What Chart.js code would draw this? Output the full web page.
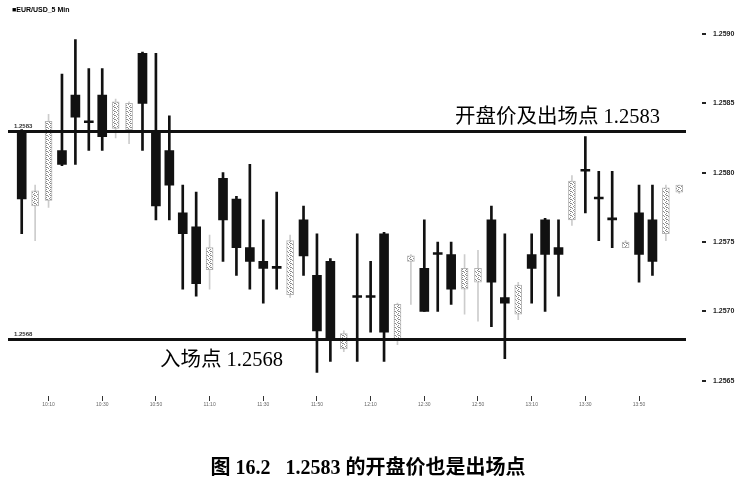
<!DOCTYPE html>
<html>
<head>
<meta charset="utf-8">
<script src="https://cdn.jsdelivr.net/npm/chart.js@4.4.1/dist/chart.umd.min.js"></script>
<style>
  html, body { margin: 0; padding: 0; background: #fff; }
  canvas { display: block; }
</style>
</head>
<body>
<canvas id="chart" width="747" height="482"></canvas>
<script>
// 5 minute bars
const times = [
  '10:00', '10:05', '10:10', '10:15', '10:20', '10:25', '10:30', '10:35', '10:40', '10:45',
  '10:50', '10:55', '11:00', '11:05', '11:10', '11:15', '11:20', '11:25', '11:30', '11:35',
  '11:40', '11:45', '11:50', '11:55', '12:00', '12:05', '12:10', '12:15', '12:20', '12:25',
  '12:30', '12:35', '12:40', '12:45', '12:50', '12:55', '13:00', '13:05', '13:10', '13:15',
  '13:20', '13:25', '13:30', '13:35', '13:40', '13:45', '13:50', '13:55', '14:00', '14:05'
];
const opens = [
  1.25830, 1.25776, 1.25780, 1.25816, 1.25856, 1.25836, 1.25856, 1.25832, 1.25831, 1.25886,
  1.25830, 1.25816, 1.25771, 1.25761, 1.25730, 1.25796, 1.25781, 1.25746, 1.25736, 1.25731,
  1.25712, 1.25766, 1.25726, 1.25736, 1.25673, 1.25710, 1.25710, 1.25756, 1.25680, 1.25736,
  1.25731, 1.25741, 1.25741, 1.25716, 1.25721, 1.25766, 1.25710, 1.25698, 1.25741, 1.25766,
  1.25746, 1.25766, 1.25801, 1.25781, 1.25766, 1.25746, 1.25771, 1.25766, 1.25756, 1.25786
];
const highs = [
  1.25831, 1.25791, 1.25842, 1.25871, 1.25896, 1.25875, 1.25875, 1.25853, 1.25851, 1.25887,
  1.25886, 1.25841, 1.25791, 1.25786, 1.25755, 1.25800, 1.25783, 1.25806, 1.25766, 1.25786,
  1.25755, 1.25776, 1.25756, 1.25738, 1.25686, 1.25756, 1.25736, 1.25757, 1.25706, 1.25741,
  1.25766, 1.25750, 1.25750, 1.25741, 1.25744, 1.25776, 1.25756, 1.25721, 1.25756, 1.25767,
  1.25766, 1.25798, 1.25826, 1.25801, 1.25801, 1.25751, 1.25791, 1.25791, 1.25791, 1.25791
];
const lows = [
  1.25756, 1.25751, 1.25775, 1.25805, 1.25806, 1.25816, 1.25816, 1.25825, 1.25821, 1.25816,
  1.25766, 1.25766, 1.25716, 1.25711, 1.25716, 1.25736, 1.25726, 1.25716, 1.25706, 1.25716,
  1.25710, 1.25726, 1.25656, 1.25664, 1.25671, 1.25664, 1.25685, 1.25664, 1.25676, 1.25705,
  1.25700, 1.25700, 1.25705, 1.25698, 1.25693, 1.25689, 1.25666, 1.25694, 1.25706, 1.25700,
  1.25711, 1.25762, 1.25771, 1.25751, 1.25746, 1.25746, 1.25721, 1.25726, 1.25751, 1.25785
];
const closes = [
  1.25781, 1.25787, 1.25837, 1.25806, 1.25840, 1.25836, 1.25826, 1.25851, 1.25850, 1.25850,
  1.25776, 1.25791, 1.25756, 1.25720, 1.25746, 1.25766, 1.25746, 1.25736, 1.25731, 1.25731,
  1.25751, 1.25740, 1.25686, 1.25681, 1.25684, 1.25710, 1.25710, 1.25685, 1.25705, 1.25740,
  1.25700, 1.25741, 1.25716, 1.25731, 1.25731, 1.25721, 1.25706, 1.25719, 1.25731, 1.25741,
  1.25741, 1.25794, 1.25801, 1.25781, 1.25766, 1.25750, 1.25741, 1.25736, 1.25789, 1.25791
];
const yTicks = [1.2565, 1.2570, 1.2575, 1.2580, 1.2585, 1.2590];
const levels = [1.2583, 1.2568];
const notes = ['开盘价及出场点 1.2583', '入场点 1.2568'];
const symbol = '■EUR/USD_5 Min';
const caption = '图 16.2   1.2583 的开盘价也是出场点';

const isUp = i => closes[i] > opens[i];
const bodies = keep => opens.map((o, i) => keep(i) ? [Math.min(o, closes[i]), Math.max(o, closes[i])] : null);
const wicks = keep => lows.map((l, i) => keep(i) ? [l, highs[i]] : null);

// speckled fill for the pale (up) candles
function stipple() {
  const c = document.createElement('canvas');
  c.width = 4; c.height = 4;
  const g = c.getContext('2d');
  g.fillStyle = '#fff';
  g.fillRect(0, 0, 4, 4);
  g.fillStyle = '#8c8c8c';
  [[0, 0], [2, 1], [1, 2], [3, 3], [2, 3]].forEach(([x, y]) => g.fillRect(x, y, 1, 1));
  return g.createPattern(c, 'repeat');
}

const overlay = {
  id: 'overlay',
  afterDatasetsDraw(chart) {
    const { ctx, chartArea, scales: { y } } = chart;
    ctx.save();
    ctx.strokeStyle = '#111';
    ctx.lineWidth = 3;
    levels.forEach(v => {
      const py = Math.round(y.getPixelForValue(v)) + 0.5;
      ctx.beginPath();
      ctx.moveTo(8, py);
      ctx.lineTo(chartArea.right, py);
      ctx.stroke();
    });

    ctx.fillStyle = '#333';
    ctx.font = 'bold 6px "Liberation Sans"';
    ctx.textBaseline = 'bottom';
    levels.forEach(v => ctx.fillText(v.toFixed(4), 14, y.getPixelForValue(v) - 2));

    // little dashes in front of the price labels
    ctx.fillStyle = '#222';
    yTicks.forEach(v => ctx.fillRect(702, Math.round(y.getPixelForValue(v)) - 1, 4, 2));

    ctx.fillStyle = '#000';
    ctx.textBaseline = 'alphabetic';
    ctx.font = '20.5px "Liberation Serif", "Noto Sans CJK SC"';
    ctx.fillText(notes[0], 455, y.getPixelForValue(levels[0]) - 8);
    ctx.fillText(notes[1], 160, y.getPixelForValue(levels[1]) + 27);

    ctx.font = 'bold 7px "Liberation Sans"';
    ctx.fillText(symbol, 12, 12);

    ctx.font = 'bold 20px "Liberation Serif", "Noto Sans CJK SC"';
    ctx.textAlign = 'center';
    ctx.fillText(caption, 368, 474);
    ctx.restore();
  }
};

new Chart(document.getElementById('chart'), {
  type: 'bar',
  data: {
    labels: times,
    datasets: [
      {
        label: 'down body',
        data: bodies(i => !isUp(i)),
        backgroundColor: '#111',
        barThickness: 9,
        minBarLength: 2,
        grouped: false,
        order: 1
      },
      {
        label: 'up body',
        data: bodies(isUp),
        backgroundColor: stipple(),
        borderColor: '#b4b4b4',
        borderWidth: 1,
        borderSkipped: false,
        barThickness: 7,
        grouped: false,
        order: 1
      },
      {
        label: 'down wick',
        data: wicks(i => !isUp(i)),
        backgroundColor: '#111',
        barThickness: 2,
        grouped: false,
        order: 2
      },
      {
        label: 'up wick',
        data: wicks(isUp),
        backgroundColor: '#cccccc',
        barThickness: 1,
        grouped: false,
        order: 2
      }
    ]
  },
  options: {
    responsive: false,
    animation: false,
    layout: { padding: { left: 15, top: 11, right: 0, bottom: 66 } },
    plugins: {
      legend: { display: false },
      tooltip: { enabled: false }
    },
    scales: {
      x: {
        offset: true,
        grid: {
          offset: false,
          drawOnChartArea: false,
          tickLength: 5,
          color: ctx => ctx.index % 4 === 2 ? '#333' : 'rgba(0,0,0,0)'
        },
        border: { display: false },
        ticks: {
          autoSkip: false,
          maxRotation: 0,
          padding: 1,
          color: '#666',
          font: { size: 5, family: 'Liberation Sans' },
          callback: (v, i) => i % 4 === 2 ? times[i] : ''
        },
        afterFit: a => { a.height = 20; }
      },
      y: {
        position: 'right',
        min: 1.25639,
        max: 1.25902,
        grid: { display: false, drawTicks: false },
        border: { display: false },
        afterBuildTicks: a => { a.ticks = yTicks.map(v => ({ value: v })); },
        ticks: {
          padding: 27,
          color: '#222',
          font: { size: 7, weight: 'bold', family: 'Liberation Sans' },
          callback: v => v.toFixed(4)
        },
        afterFit: a => { a.width = 61; }
      }
    }
  },
  plugins: [overlay]
});
</script>
</body>
</html>
